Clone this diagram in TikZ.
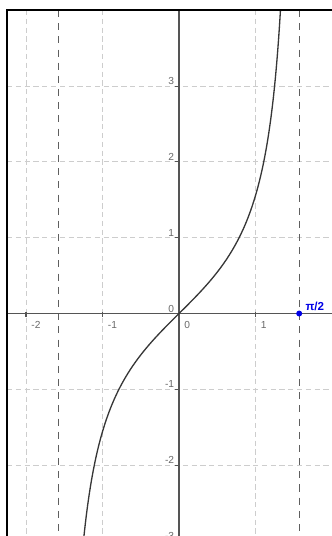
\documentclass[tikz,border=0pt]{standalone}
\usepackage{fontspec}
\setmainfont{Liberation Sans}
\usetikzlibrary{positioning,calc}
\definecolor{gridgray}{RGB}{205,205,205}
\definecolor{axisgray}{RGB}{85,85,85}
\definecolor{labelgray}{RGB}{105,105,105}
\definecolor{asymgray}{RGB}{95,95,95}
\definecolor{curvegray}{RGB}{55,55,55}
\definecolor{ptblue}{RGB}{0,0,230}
\tikzset{
  gridline/.style={gridgray,dash pattern=on 3pt off 2pt,line width=0.55pt},
  asymline/.style={asymgray,dash pattern=on 4pt off 3.5pt,line width=0.7pt},
  axisline/.style={axisgray,line width=0.75pt},
  tickmark/.style={axisgray,line width=0.6pt},
  ticklabel/.style={text=labelgray,inner sep=0pt,font=\fontsize{5.8}{6}\selectfont},
  curveline/.style={curvegray,line width=0.75pt},
  framebox/.style={black,line width=1.2pt},
  ptdot/.style={circle,fill=ptblue,inner sep=0pt,minimum size=0.12cm},
  ptlabel/.style={text=ptblue,inner sep=0pt,font=\bfseries\fontsize{6.6}{7}\selectfont}
}
\begin{document}
\begin{tikzpicture}[x=1.53cm,y=1.516cm]
  \useasboundingbox (-2.340,-2.935) rectangle (1.987,4.136);
  \coordinate (tl) at (-2.248,4.004);
  \coordinate (bl) at (-2.248,-2.935);
  \coordinate (tr) at (2.0,4.004);
  % grid
  \foreach \x in {-2,-1,1,2} \draw[gridline] (\x,4.004) -- (\x,-2.935);
  \foreach \y in {-3,-2,-1,1,2,3} \draw[gridline] (-2.248,\y) -- (2.0,\y);
  % asymptotes
  \foreach \x in {-1.5708,1.5708} \draw[asymline] (\x,4.004) -- (\x,-2.935);
  % axes
  \draw[axisline] (-2.248,0) -- (2.0,0);
  \draw[axisline] (0,4.004) -- (0,-2.935);
  \foreach \x/\n in {-2/m2,-1/m1,1/1} \draw[tickmark] (\x,0) ++(0,0.04cm) -- ++(0,-0.1cm);
  \foreach \y in {-3,-2,-1,1,2,3} \draw[tickmark] (0,\y) -- ++(-0.08cm,0);
  \foreach \x/\n in {-2/m2,-1/m1,0/0,1/1}
    \node[ticklabel,anchor=north west] (xl\n) at ([xshift=0.1cm,yshift=-0.15cm]\x,0) {\x};
  \foreach \y/\n in {-3/m3,-2/m2,-1/m1,0/0,1/1,2/2,3/3}
    \node[ticklabel,anchor=south east] (yl\n) at ([xshift=-0.09cm,yshift=0.02cm]0,\y) {\y};
  % tan curve
  \begin{scope}
    \clip (bl) rectangle (tr);
    \draw[curveline] plot[domain=-1.26:1.34,samples=200,smooth] (\x,{tan(\x r)});
  \end{scope}
  \node[ptdot] (halfpi) at (1.5708,0) {};
  \node[ptlabel,anchor=base west] (halfpilab) at ([xshift=0.12cm,yshift=0.07cm]halfpi.center) {π/2};
  % frame
  \draw[framebox] (bl) -- (tl) -- (tr);
\end{tikzpicture}
\end{document}
